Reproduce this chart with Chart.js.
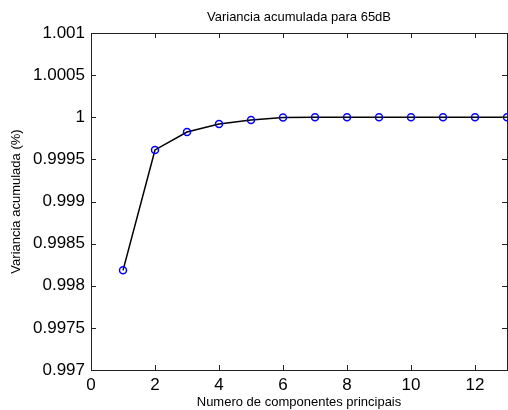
<!DOCTYPE html>
<html>
<head>
<meta charset="utf-8">
<script src="https://cdn.jsdelivr.net/npm/chart.js@4"></script>
<style>
  html, body { margin: 0; padding: 0; background: #fff; }
  #wrap { width: 508px; height: 410px; }
</style>
</head>
<body>
<div id="wrap"><canvas id="varChart" width="508" height="410"></canvas></div>
<script>
// data
const components = [1, 2, 3, 4, 5, 6, 7, 8, 9, 10, 11, 12, 13];
const variance = [0.998183, 0.999612, 0.999825, 0.99992, 0.999968, 0.999996, 1, 1, 1, 1, 1, 1, 1];
const chartTitle = 'Variancia acumulada para 65dB';

const FONT = 'Liberation Sans, Arial, Helvetica, sans-serif';

// MATLAB style: box, ticks pointing inwards on all four sides, title centred over the axes
const matlabAxes = {
    id: 'matlabAxes',
    afterDraw(chart) {
        const ctx = chart.ctx;
        const a = chart.chartArea;
        const xs = chart.scales.x, ys = chart.scales.y;
        const len = 5;
        ctx.save();
        ctx.strokeStyle = '#222';
        ctx.lineWidth = 1;
        ctx.beginPath();
        xs.ticks.forEach(t => {
            const px = Math.round(xs.getPixelForValue(t.value)) + 0.5;
            ctx.moveTo(px, a.bottom); ctx.lineTo(px, a.bottom - len);
            ctx.moveTo(px, a.top); ctx.lineTo(px, a.top + len);
        });
        ys.ticks.forEach(t => {
            const py = Math.round(ys.getPixelForValue(t.value)) + 0.5;
            ctx.moveTo(a.left, py); ctx.lineTo(a.left + len, py);
            ctx.moveTo(a.right, py); ctx.lineTo(a.right - len, py);
        });
        ctx.stroke();
        ctx.strokeRect(a.left + 0.5, a.top + 0.5, a.right - a.left, a.bottom - a.top);

        ctx.fillStyle = '#000';
        ctx.font = '13px ' + FONT;
        ctx.textAlign = 'center';
        ctx.textBaseline = 'middle';
        ctx.fillText(chartTitle, (a.left + a.right) / 2, 17);
        ctx.restore();
    }
};

new Chart(document.getElementById('varChart'), {
    type: 'line',
    data: {
        labels: components,
        datasets: [{
            data: components.map((c, i) => ({ x: c, y: variance[i] })),
            borderColor: '#000',
            borderWidth: 1.5,
            pointStyle: 'circle',
            pointRadius: 3.5,
            pointBorderColor: '#0000ff',
            pointBackgroundColor: 'rgba(0,0,0,0)',
            pointBorderWidth: 1.5,
            tension: 0,
            clip: false
        }]
    },
    options: {
        responsive: false,
        animation: false,
        layout: { autoPadding: false, padding: { left: 0, right: 1, top: 33, bottom: 0 } },
        plugins: {
            legend: { display: false },
            tooltip: { enabled: false },
            title: { display: false }
        },
        scales: {
            x: {
                type: 'linear',
                min: 0,
                max: 13,
                afterBuildTicks: s => { s.ticks = s.ticks.filter(t => t.value % 2 === 0); },
                afterFit: s => { s.height = 40; s.paddingRight = 0; s.paddingLeft = 0; },
                ticks: {
                    stepSize: 2,
                    color: '#000',
                    padding: 5,
                    maxRotation: 0,
                    font: { family: FONT, size: 17 }
                },
                grid: { display: false, drawTicks: false },
                border: { display: false },
                title: {
                    display: true,
                    text: 'Numero de componentes principais',
                    color: '#000',
                    font: { family: FONT, size: 13 },
                    padding: { top: 0, bottom: 0 }
                }
            },
            y: {
                min: 0.997,
                max: 1.001,
                afterFit: s => { s.width = 91; s.paddingTop = 0; s.paddingBottom = 0; },
                ticks: {
                    stepSize: 0.0005,
                    color: '#000',
                    padding: 6,
                    font: { family: FONT, size: 17 },
                    callback: v => String(Number(v.toFixed(4)))
                },
                grid: { display: false, drawTicks: false },
                border: { display: false },
                title: {
                    display: true,
                    text: 'Variancia acumulada (%)',
                    color: '#000',
                    font: { family: FONT, size: 13 },
                    padding: { top: 9, bottom: 0 }
                }
            }
        }
    },
    plugins: [matlabAxes]
});
</script>
</body>
</html>
